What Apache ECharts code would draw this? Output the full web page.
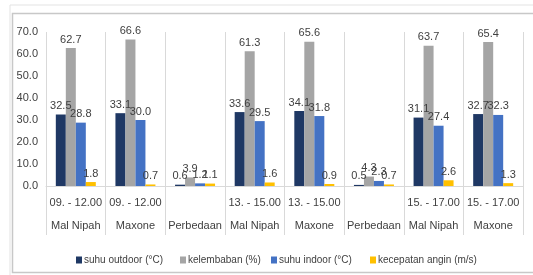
<!DOCTYPE html>
<html>
<head>
<meta charset="utf-8">
<style>
    html, body { margin: 0; padding: 0; background: #fff; }
    #chart { width: 533px; height: 275px; }
</style>
<script src="https://cdn.jsdelivr.net/npm/echarts@6/dist/echarts.min.js"></script>
</head>
<body>
<div id="chart"></div>
<script>
// waktu dan lokasi
const waktu = ['09. - 12.00', '09. - 12.00', '', '13. - 15.00', '13. - 15.00', '', '15. - 17.00', '15. - 17.00'];
const lokasi = ['Mal Nipah', 'Maxone', 'Perbedaan', 'Mal Nipah', 'Maxone', 'Perbedaan', 'Mal Nipah', 'Maxone'];
// nilai tiap seri
const suhuOutdoor = [32.5, 33.1, 0.6, 33.6, 34.1, 0.5, 31.1, 32.7];
const kelembaban = [62.7, 66.6, 3.9, 61.3, 65.6, 4.3, 63.7, 65.4];
const suhuIndoor = [28.8, 30.0, 1.2, 29.5, 31.8, 2.3, 27.4, 32.3];
const kecepatanAngin = [1.8, 0.7, 1.1, 1.6, 0.9, 0.7, 2.6, 1.3];
const seriesNames = ['suhu outdoor (\u00b0C)', 'kelembaban (%)', 'suhu indoor (\u00b0C)', 'kecepatan angin (m/s)'];

const font = "'Liberation Sans', Arial, sans-serif";
const chart = echarts.init(document.getElementById('chart'));

const categories = lokasi.map((l, i) => waktu[i] + '\n' + l);

// default tiap series
const makeSeries = (name, data) => ({
    name: name,
    type: 'bar',
    data: data,
    barWidth: 10,
    barGap: '0%',
    label: {
        show: true,
        position: 'top',
        distance: 3,
        formatter: p => p.value.toFixed(1),
        color: '#404040',
        fontSize: 11,
        fontFamily: font
    }
});

// legend satu per item supaya jaraknya mirip aslinya
const legendLeft = [76, 180, 271, 370];
const legends = seriesNames.map((n, i) => ({
    data: [n],
    left: legendLeft[i],
    bottom: 10,
    padding: 0,
    itemWidth: 6,
    itemHeight: 7,
    icon: 'rect',
    textStyle: { color: '#404040', fontSize: 10, fontFamily: font, padding: [0, 0, 0, -3] }
}));

const option = {
    animation: false,
    color: ['#1f3864', '#a5a5a5', '#4472c4', '#ffc000'],
    textStyle: { fontFamily: font },
    graphic: [
        { type: 'rect', shape: { x: 10, y: 5, width: 540, height: 290 }, style: { fill: 'none', stroke: '#e3e3e3', lineWidth: 1 }, silent: true },
        { type: 'rect', shape: { x: 12.5, y: 13.5, width: 540, height: 259 }, style: { fill: 'none', stroke: '#c8c8c8', lineWidth: 1.5 }, silent: true }
    ],
    grid: { left: 46, right: 10, top: 32, bottom: 89, containLabel: false },
    legend: legends,
    xAxis: [{
        type: 'category',
        data: categories,
        axisLine: { lineStyle: { color: '#d9d9d9', width: 1 } },
        axisTick: { show: true, interval: 0, length: 49, lineStyle: { color: '#d9d9d9' } },
        splitLine: { show: true, interval: 0, lineStyle: { color: '#d9d9d9', width: 1 } },
        axisLabel: {
            interval: 0,
            color: '#404040',
            fontSize: 11,
            fontFamily: font,
            lineHeight: 23,
            margin: 5
        }
    }],
    yAxis: [{
        type: 'value',
        min: 0,
        max: 70,
        interval: 10,
        axisLine: { show: false },
        axisTick: { show: false },
        splitLine: { show: false },
        axisLabel: {
            color: '#404040',
            fontSize: 11,
            fontFamily: font,
            margin: 8,
            formatter: v => v.toFixed(1)
        }
    }],
    series: [
        makeSeries(seriesNames[0], suhuOutdoor),
        makeSeries(seriesNames[1], kelembaban),
        makeSeries(seriesNames[2], suhuIndoor),
        makeSeries(seriesNames[3], kecepatanAngin)
    ]
};
chart.setOption(option);
</script>
</body>
</html>
